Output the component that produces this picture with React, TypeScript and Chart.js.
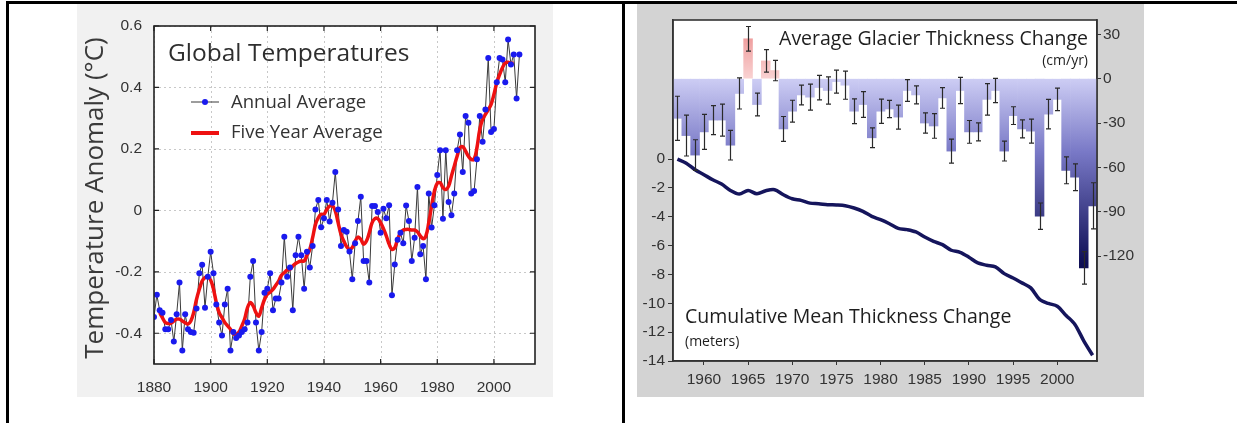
import React, { useEffect, useRef } from "react";
import { Chart, registerables } from "chart.js";

Chart.register(...registerables);

// ---------------- Left chart data: Global Temperatures ----------------
const TEMP_START_YEAR = 1880;
const ANNUAL_TEMPS = [
  -0.347, -0.275, -0.325, -0.333, -0.387, -0.387, -0.357, -0.427, -0.338, -0.235,
  -0.456, -0.338, -0.387, -0.396, -0.398, -0.319, -0.205, -0.177, -0.317, -0.216,
  -0.135, -0.205, -0.306, -0.365, -0.407, -0.306, -0.255, -0.456, -0.396, -0.415,
  -0.407, -0.396, -0.387, -0.365, -0.216, -0.165, -0.365, -0.456, -0.396, -0.268,
  -0.255, -0.205, -0.325, -0.287, -0.287, -0.235, -0.086, -0.216, -0.186, -0.325,
  -0.146, -0.086, -0.146, -0.255, -0.135, -0.186, -0.116, 0.003, 0.034, -0.055,
  -0.026, 0.034, -0.036, 0.025, 0.125, 0.003, -0.116, -0.064, -0.07, -0.134,
  -0.224, -0.107, -0.035, 0.044, -0.165, -0.165, -0.235, 0.014, 0.014, -0.005,
  -0.073, 0.005, -0.026, 0.017, -0.276, -0.176, -0.096, -0.073, -0.107, 0.016,
  -0.035, -0.165, -0.089, 0.076, -0.143, -0.116, -0.224, 0.055, -0.056, 0.017,
  0.115, 0.196, -0.027, 0.196, 0.027, -0.016, 0.055, 0.196, 0.247, 0.125,
  0.307, 0.285, 0.055, 0.063, 0.166, 0.307, 0.223, 0.328, 0.496, 0.255,
  0.265, 0.417, 0.496, 0.491, 0.417, 0.556, 0.475, 0.507, 0.364, 0.507,
];
const FIVE_YEAR_START = 1882;
const FIVE_YEAR_TEMPS = [
  -0.333, -0.35, -0.365, -0.368, -0.367, -0.36, -0.354, -0.354,
  -0.36, -0.366, -0.37, -0.36, -0.333, -0.29, -0.257, -0.23, -0.219, -0.216,
  -0.227, -0.257, -0.3, -0.333, -0.349, -0.365, -0.376, -0.387, -0.401, -0.403,
  -0.396, -0.376, -0.354, -0.317, -0.3, -0.311, -0.333, -0.344, -0.317, -0.29,
  -0.273, -0.266, -0.257, -0.244, -0.23, -0.211, -0.203, -0.194, -0.192, -0.181,
  -0.173, -0.168, -0.165, -0.165, -0.146, -0.127, -0.089, -0.046, -0.024, -0.013,
  -0.013, 0.003, 0.014, 0.016, -0.002, -0.04, -0.078, -0.1, -0.118, -0.127,
  -0.121, -0.1, -0.087, -0.094, -0.11, -0.1, -0.073, -0.04, -0.027, -0.027,
  -0.04, -0.06, -0.083, -0.11, -0.127, -0.121, -0.094, -0.073, -0.064, -0.062,
  -0.062, -0.064, -0.064, -0.07, -0.083, -0.092, -0.083, -0.04, 0.014, 0.063,
  0.088, 0.09, 0.074, 0.068, 0.079, 0.112, 0.144, 0.176, 0.204, 0.207,
  0.193, 0.176, 0.166, 0.166, 0.204, 0.263, 0.296, 0.312, 0.328, 0.345,
  0.377, 0.415, 0.442, 0.464, 0.48, 0.482, 0.478, 0.48,
];
const TEMP_X_TICKS = [1880, 1900, 1920, 1940, 1960, 1980, 2000];
const TEMP_Y_TICKS = [-0.4, -0.2, 0, 0.2, 0.4, 0.6];

// ---------------- Right chart data: Glacier thickness ----------------
const GLACIER_YEARS = [
  1957, 1958, 1959, 1960, 1961, 1962, 1963, 1964, 1965, 1966, 1967, 1968,
  1969, 1970, 1971, 1972, 1973, 1974, 1975, 1976, 1977, 1978, 1979, 1980,
  1981, 1982, 1983, 1984, 1985, 1986, 1987, 1988, 1989, 1990, 1991, 1992,
  1993, 1994, 1995, 1996, 1997, 1998, 1999, 2000, 2001, 2002, 2003, 2004,
];
const THICKNESS_CHANGE = [
  -26.8, -38.5, -51.7, -36, -28, -28, -45, -10, 27, -17.5, 12, 5.5,
  -34, -22, -11, -12.5, -6, -8, -2, -4.4, -22, -17.5, -40, -22,
  -20.5, -26, -8, -11, -30, -32, -13, -49, -8, -36, -36, -14,
  -8, -49, -25, -34, -35.5, -93, -24, -14, -62, -66.7, -128, -86,
];
const THICKNESS_ERROR = [
  14.9, 13.8, 10.4, 11.8, 9.8, 10.8, 10, 10.5, 8.3, 7.7, 7.6, 6.9,
  8.4, 7.4, 6.7, 8.8, 8.3, 9.2, 7.8, 9.5, 8.4, 8.7, 6.7, 8.2,
  5.8, 8.1, 7.4, 6.1, 6.8, 8.3, 7, 8.1, 8.9, 7.7, 6.1, 10.7,
  8.2, 6.7, 6, 6.1, 8.1, 8.9, 10, 7.6, 9.1, 9, 11, 15.6,
];
const CUMULATIVE = [
  0, -0.28, -0.74, -1.08, -1.43, -1.73, -2.17, -2.42, -2.17, -2.4, -2.19, -2.12,
  -2.47, -2.75, -2.86, -3.05, -3.09, -3.16, -3.18, -3.23, -3.39, -3.62, -3.97, -4.2,
  -4.48, -4.8, -4.89, -5.05, -5.4, -5.7, -5.93, -6.32, -6.46, -6.8, -7.2, -7.36,
  -7.47, -7.94, -8.24, -8.58, -8.93, -9.73, -10.01, -10.2, -10.84, -11.46, -12.6, -13.6,
];
const GLACIER_TICK_YEARS = [1960, 1965, 1970, 1975, 1980, 1985, 1990, 1995, 2000];
const CUM_TICKS = [0, -2, -4, -6, -8, -10, -12, -14];
const RATE_TICKS = [30, 0, -30, -60, -90, -120];

const TICK_FONT = { family: "'Liberation Sans', Arial, sans-serif", size: 15.5 };
const TEXT_FONT = "'Open Sans', 'DejaVu Sans', sans-serif";

function TemperatureChart() {
  const ref = useRef<HTMLCanvasElement | null>(null);
  useEffect(() => {
    if (!ref.current) return;
    const annualPoints = ANNUAL_TEMPS.map((v, i) => ({ x: TEMP_START_YEAR + i, y: v }));
    const fivePoints = FIVE_YEAR_TEMPS.map((v, i) => ({ x: FIVE_YEAR_START + i, y: v }));

    const decor = {
      id: "tempDecor",
      beforeDraw(chart: any) {
        const { ctx, chartArea: a } = chart;
        ctx.save();
        ctx.fillStyle = "#ffffff";
        ctx.fillRect(a.left, a.top, a.right - a.left, a.bottom - a.top);
        ctx.restore();
      },
      beforeDatasetsDraw(chart: any) {
        const { ctx, chartArea: a, scales } = chart;
        ctx.save();
        ctx.strokeStyle = "#c8c8c8";
        ctx.lineWidth = 1;
        ctx.setLineDash([2, 3]);
        TEMP_X_TICKS.forEach((t) => {
          const x = Math.round(scales.x.getPixelForValue(t)) + 0.5;
          ctx.beginPath();
          ctx.moveTo(x, a.top);
          ctx.lineTo(x, a.bottom);
          ctx.stroke();
        });
        TEMP_Y_TICKS.forEach((t) => {
          const y = Math.round(scales.y.getPixelForValue(t)) + 0.5;
          ctx.beginPath();
          ctx.moveTo(a.left, y);
          ctx.lineTo(a.right, y);
          ctx.stroke();
        });
        ctx.restore();
      },
      afterDatasetsDraw(chart: any) {
        const { ctx, chartArea: a, scales } = chart;
        ctx.save();
        ctx.strokeStyle = "#222";
        ctx.lineWidth = 1.6;
        ctx.strokeRect(a.left, a.top, a.right - a.left, a.bottom - a.top);
        ctx.lineWidth = 1.2;
        const tl = 5;
        TEMP_X_TICKS.forEach((t) => {
          const x = scales.x.getPixelForValue(t);
          ctx.beginPath();
          ctx.moveTo(x, a.bottom);
          ctx.lineTo(x, a.bottom - tl);
          ctx.moveTo(x, a.top);
          ctx.lineTo(x, a.top + tl);
          ctx.stroke();
        });
        TEMP_Y_TICKS.forEach((t) => {
          const y = scales.y.getPixelForValue(t);
          ctx.beginPath();
          ctx.moveTo(a.left, y);
          ctx.lineTo(a.left + tl, y);
          ctx.moveTo(a.right, y);
          ctx.lineTo(a.right - tl, y);
          ctx.stroke();
        });

        // Title inside plot
        ctx.fillStyle = "#2e2e2e";
        ctx.textBaseline = "alphabetic";
        ctx.textAlign = "left";
        ctx.font = `24.5px ${TEXT_FONT}`;
        ctx.fillText("Global Temperatures", a.left + 14, a.top + 35);

        // Legend
        const lx1 = a.left + 37;
        const lx2 = a.left + 65;
        const y1 = a.top + 76;
        const y2 = a.top + 107;
        ctx.strokeStyle = "#3a3a3a";
        ctx.lineWidth = 1;
        ctx.beginPath();
        ctx.moveTo(lx1, y1);
        ctx.lineTo(lx2, y1);
        ctx.stroke();
        ctx.fillStyle = "#1a1aee";
        ctx.beginPath();
        ctx.arc((lx1 + lx2) / 2, y1, 3, 0, Math.PI * 2);
        ctx.fill();
        ctx.strokeStyle = "#ee1111";
        ctx.lineWidth = 4;
        ctx.beginPath();
        ctx.moveTo(lx1, y2);
        ctx.lineTo(lx2, y2);
        ctx.stroke();
        ctx.fillStyle = "#333";
        ctx.font = `18.5px ${TEXT_FONT}`;
        ctx.fillText("Annual Average", a.left + 77, y1 + 6);
        ctx.fillText("Five Year Average", a.left + 77, y2 + 5);

        // Y axis title
        ctx.save();
        ctx.translate(19, (a.top + a.bottom) / 2 + 3);
        ctx.rotate(-Math.PI / 2);
        ctx.textAlign = "center";
        ctx.textBaseline = "middle";
        ctx.fillStyle = "#3a3a3a";
        ctx.font = `26px ${TEXT_FONT}`;
        ctx.fillText("Temperature Anomaly (°C)", 0, 0);
        ctx.restore();
        ctx.restore();
      },
    };

    const chart = new Chart(ref.current, {
      type: "line",
      data: {
        datasets: [
          {
            label: "Annual Average",
            data: annualPoints,
            borderColor: "#3a3a3a",
            borderWidth: 1,
            pointRadius: 0,
            order: 3,
          },
          {
            label: "Five Year Average",
            data: fivePoints,
            borderColor: "#ee1111",
            borderWidth: 3.5,
            pointRadius: 0,
            tension: 0.4,
            order: 2,
          },
          {
            label: "Annual Average points",
            data: annualPoints,
            showLine: false,
            pointRadius: 3,
            pointBackgroundColor: "#1a1aee",
            pointBorderWidth: 0,
            order: 1,
          },
        ],
      },
      options: {
        responsive: false,
        animation: false,
        layout: { padding: { top: 22, right: 18, left: 0, bottom: 0 } },
        plugins: { legend: { display: false }, tooltip: { enabled: false } },
        scales: {
          x: {
            type: "linear",
            min: 1880,
            max: 2014.5,
            afterBuildTicks: (s: any) => {
              s.ticks = TEMP_X_TICKS.map((v) => ({ value: v }));
            },
            afterFit: (s: any) => {
              s.height = 33;
            },
            grid: { display: false },
            border: { display: false },
            ticks: {
              autoSkip: false,
              maxRotation: 0,
              padding: 6,
              color: "#333",
              font: TICK_FONT,
              callback: (v: any) => String(v),
            },
          },
          y: {
            type: "linear",
            min: -0.5,
            max: 0.6,
            afterBuildTicks: (s: any) => {
              s.ticks = TEMP_Y_TICKS.map((v) => ({ value: v }));
            },
            afterFit: (s: any) => {
              s.width = 77;
            },
            grid: { display: false },
            border: { display: false },
            ticks: {
              padding: 4,
              color: "#333",
              font: TICK_FONT,
              callback: (v: any) => (Math.abs(v) < 1e-9 ? "0" : Number(v).toFixed(1)),
            },
          },
        },
      },
      plugins: [decor],
    } as any);
    return () => chart.destroy();
  }, []);
  return <canvas ref={ref} width={476} height={393} style={{ display: "block" }} />;
}

function GlacierChart() {
  const ref = useRef<HTMLCanvasElement | null>(null);
  useEffect(() => {
    if (!ref.current) return;

    const barFill = (c: any) => {
      const chart = c.chart;
      const y = chart.scales && chart.scales.yRate;
      if (!chart.chartArea || !y) return "#9a9ad8";
      const ctx = chart.ctx;
      const v = c.raw;
      if (typeof v === "number" && v >= 0) {
        const g = ctx.createLinearGradient(0, y.getPixelForValue(30), 0, y.getPixelForValue(0));
        g.addColorStop(0, "#ee9a9a");
        g.addColorStop(1, "#f9d2d2");
        return g;
      }
      const g = ctx.createLinearGradient(0, y.getPixelForValue(0), 0, y.getPixelForValue(-125));
      g.addColorStop(0, "#cdcdf4");
      g.addColorStop(0.4, "#7878c6");
      g.addColorStop(1, "#0f0f55");
      return g;
    };

    const decor = {
      id: "glacierDecor",
      beforeDraw(chart: any) {
        const { ctx, chartArea: a } = chart;
        ctx.save();
        ctx.fillStyle = "#ffffff";
        ctx.fillRect(a.left, a.top, a.right - a.left, a.bottom - a.top);
        ctx.restore();
      },
      afterDatasetsDraw(chart: any) {
        const { ctx, chartArea: a, scales } = chart;
        const meta = chart.getDatasetMeta(1);
        ctx.save();
        ctx.strokeStyle = "#2a2a2a";
        ctx.lineWidth = 1.2;
        meta.data.forEach((el: any, i: number) => {
          const v = THICKNESS_CHANGE[i];
          const e = THICKNESS_ERROR[i];
          const x = Math.round(el.x) + 0.5;
          const yt = scales.yRate.getPixelForValue(v + e);
          const yb = scales.yRate.getPixelForValue(v - e);
          ctx.beginPath();
          ctx.moveTo(x, yt);
          ctx.lineTo(x, yb);
          ctx.moveTo(x - 2.5, yt);
          ctx.lineTo(x + 2.5, yt);
          ctx.moveTo(x - 2.5, yb);
          ctx.lineTo(x + 2.5, yb);
          ctx.stroke();
        });

        ctx.strokeStyle = "#333";
        ctx.lineWidth = 1.6;
        ctx.strokeRect(a.left, a.top, a.right - a.left, a.bottom - a.top);

        ctx.fillStyle = "#1e1e1e";
        ctx.textBaseline = "alphabetic";
        ctx.textAlign = "right";
        ctx.font = `19.5px ${TEXT_FONT}`;
        ctx.fillText("Average Glacier Thickness Change", a.right - 9, a.top + 24.7);
        ctx.font = `14px ${TEXT_FONT}`;
        ctx.fillText("(cm/yr)", a.right - 9, a.top + 44.7);
        ctx.textAlign = "left";
        ctx.font = `19.5px ${TEXT_FONT}`;
        ctx.fillText("Cumulative Mean Thickness Change", a.left + 12, a.top + 302.7);
        ctx.font = `14px ${TEXT_FONT}`;
        ctx.fillText("(meters)", a.left + 12, a.top + 325.5);
        ctx.restore();
      },
    };

    const chart = new Chart(ref.current, {
      type: "bar",
      data: {
        labels: GLACIER_YEARS.map(String),
        datasets: [
          {
            type: "line",
            label: "Cumulative Mean Thickness Change",
            data: CUMULATIVE,
            yAxisID: "yCum",
            borderColor: "#15155c",
            borderWidth: 3.5,
            pointRadius: 0,
            tension: 0.3,
            order: 1,
          },
          {
            type: "bar",
            label: "Average Glacier Thickness Change",
            data: THICKNESS_CHANGE,
            yAxisID: "yRate",
            backgroundColor: barFill,
            borderWidth: 0,
            barPercentage: 1,
            categoryPercentage: 1,
            order: 2,
          },
        ],
      },
      options: {
        responsive: false,
        animation: false,
        layout: { padding: { top: 16, right: 0, left: 0, bottom: 0 } },
        plugins: { legend: { display: false }, tooltip: { enabled: false } },
        scales: {
          x: {
            type: "category",
            offset: true,
            afterBuildTicks: (s: any) => {
              s.ticks = s.ticks.filter((t: any) => GLACIER_TICK_YEARS.includes(GLACIER_YEARS[t.value]));
            },
            afterFit: (s: any) => {
              s.height = 36;
            },
            grid: {
              display: true,
              offset: false,
              drawOnChartArea: false,
              drawTicks: true,
              tickLength: 4,
              color: "#333",
            },
            border: { display: true, color: "#333", width: 1.5 },
            ticks: {
              autoSkip: false,
              maxRotation: 0,
              padding: 5,
              color: "#333",
              font: TICK_FONT,
              callback: (v: any) => String(GLACIER_YEARS[v]),
            },
          },
          yCum: {
            type: "linear",
            position: "left",
            min: -14,
            max: 9.65,
            afterBuildTicks: (s: any) => {
              s.ticks = CUM_TICKS.map((v) => ({ value: v }));
            },
            afterFit: (s: any) => {
              s.width = 36;
            },
            grid: { display: true, drawOnChartArea: false, drawTicks: true, tickLength: 5, color: "#333" },
            border: { display: true, color: "#333", width: 1.5 },
            ticks: { padding: 3, color: "#333", font: TICK_FONT, callback: (v: any) => String(v) },
          },
          yRate: {
            type: "linear",
            position: "right",
            min: -191,
            max: 39.7,
            afterBuildTicks: (s: any) => {
              s.ticks = RATE_TICKS.map((v) => ({ value: v }));
            },
            afterFit: (s: any) => {
              s.width = 47;
            },
            grid: { display: true, drawOnChartArea: false, drawTicks: true, tickLength: 4, color: "#333" },
            border: { display: true, color: "#333", width: 1.5 },
            ticks: { padding: 2, color: "#333", font: TICK_FONT, callback: (v: any) => String(v) },
          },
        },
      },
      plugins: [decor],
    } as any);
    return () => chart.destroy();
  }, []);
  return <canvas ref={ref} width={507} height={393} style={{ display: "block" }} />;
}

export default function App() {
  const line = (style: React.CSSProperties) => (
    <div style={{ position: "absolute", background: "#000", ...style }} />
  );
  return (
    <div style={{ position: "absolute", left: 0, top: 0, width: 1237, height: 423, background: "#fff", overflow: "hidden" }}>
      {line({ left: 6, top: 1, width: 1231, height: 3 })}
      {line({ left: 6, top: 1, width: 3, height: 422 })}
      {line({ left: 622, top: 1, width: 3, height: 422 })}
      <div style={{ position: "absolute", left: 77, top: 4, width: 476, height: 393, background: "#f1f1f1" }}>
        <TemperatureChart />
      </div>
      <div style={{ position: "absolute", left: 637, top: 4, width: 507, height: 393, background: "#d3d3d3" }}>
        <GlacierChart />
      </div>
    </div>
  );
}
